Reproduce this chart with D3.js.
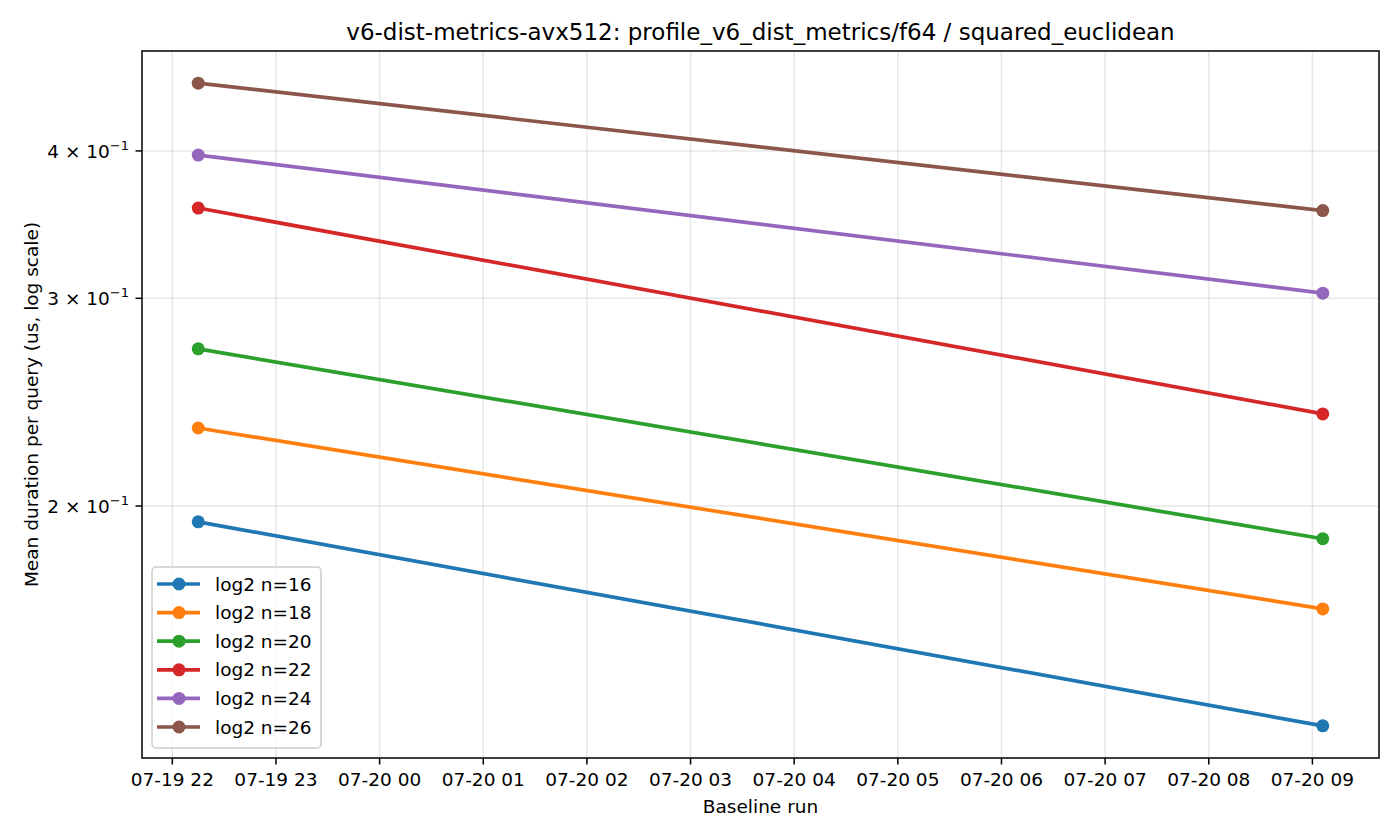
<!DOCTYPE html>
<head>
    <meta charset="UTF-8">
    <script src="https://cdnjs.cloudflare.com/ajax/libs/d3/7.8.5/d3.min.js"></script>
    <style>
        body { margin: 0; background: #fff; }
        text { font-family: "DejaVu Sans", sans-serif; fill: #000; }
    </style>
</head>
<body>
    <svg id="chart"></svg>
    <script>
        //********** DATOS *********************
        var tiempos = ["2024-07-19T22:15:00", "2024-07-20T09:06:00"];
        var series = ["log2 n=16", "log2 n=18", "log2 n=20", "log2 n=22", "log2 n=24", "log2 n=26"];
        var valores = [
            [0.1939, 0.1302],
            [0.2329, 0.1636],
            [0.2718, 0.1876],
            [0.3578, 0.2394],
            [0.3968, 0.3030],
            [0.4566, 0.3560]
        ];
        var colores = ["#1f77b4", "#ff7f0e", "#2ca02c", "#d62728", "#9467bd", "#8c564b"];
        var yTicks = [0.2, 0.3, 0.4];
        var yTickMant = ["2", "3", "4"];

        //********** DEFINICIONES *********************
        var width = 1400, height = 840;
        var mLeft = 142, mRight = 1379, mTop = 51, mBottom = 758;

        var parse = d3.timeParse("%Y-%m-%dT%H:%M:%S");
        var fechas = tiempos.map(parse);

        var t0 = +fechas[0], t1 = +fechas[1], pad = (t1 - t0) * 0.05;
        var x = d3.scaleTime()
            .domain([new Date(t0 - pad), new Date(t1 + pad)])
            .range([mLeft, mRight]);

        var todos = d3.merge(valores);
        var lmin = Math.log10(d3.min(todos)), lmax = Math.log10(d3.max(todos));
        var lpad = (lmax - lmin) * 0.05;
        var y = d3.scaleLog()
            .domain([Math.pow(10, lmin - lpad), Math.pow(10, lmax + lpad)])
            .range([mBottom, mTop]);

        var svg = d3.select("#chart")
            .attr("width", width)
            .attr("height", height);

        var xTicks = d3.timeHour.range(d3.timeHour.ceil(x.domain()[0]), x.domain()[1]);
        var fmt = d3.timeFormat("%m-%d %H");

        //********** GRILLA *********************
        svg.append("g").selectAll("line")
            .data(xTicks).enter().append("line")
            .attr("x1", function (d) { return x(d); })
            .attr("x2", function (d) { return x(d); })
            .attr("y1", mTop).attr("y2", mBottom)
            .style("stroke", "#b0b0b0").style("stroke-opacity", 0.3).style("stroke-width", 1.5);

        svg.append("g").selectAll("line")
            .data(yTicks).enter().append("line")
            .attr("y1", function (d) { return y(d); })
            .attr("y2", function (d) { return y(d); })
            .attr("x1", mLeft).attr("x2", mRight)
            .style("stroke", "#b0b0b0").style("stroke-opacity", 0.3).style("stroke-width", 1.5);

        //********** LINEAS *********************
        var line = d3.line()
            .x(function (d, i) { return x(fechas[i]); })
            .y(function (d) { return y(d); });

        var grupos = svg.append("g").selectAll("g")
            .data(valores).enter().append("g");

        grupos.append("path")
            .attr("d", function (d) { return line(d); })
            .style("fill", "none")
            .style("stroke", function (d, i) { return colores[i]; })
            .style("stroke-width", 3.7);

        grupos.selectAll("circle")
            .data(function (d, i) { return d.map(function (v, j) { return { v: v, j: j, c: colores[i] }; }); })
            .enter().append("circle")
            .attr("cx", function (d) { return x(fechas[d.j]); })
            .attr("cy", function (d) { return y(d.v); })
            .attr("r", 6.5)
            .style("fill", function (d) { return d.c; });

        //********** EJES *********************
        svg.append("rect")
            .attr("x", mLeft).attr("y", mTop)
            .attr("width", mRight - mLeft).attr("height", mBottom - mTop)
            .style("fill", "none").style("stroke", "#000").style("stroke-width", 1.5);

        var xa = svg.append("g").selectAll("g")
            .data(xTicks).enter().append("g")
            .attr("transform", function (d) { return "translate(" + x(d) + "," + mBottom + ")"; });
        xa.append("line").attr("y2", 6.5).style("stroke", "#000").style("stroke-width", 1.5);
        xa.append("text")
            .attr("y", 28).attr("text-anchor", "middle")
            .style("font-size", "18.5px")
            .text(function (d) { return fmt(d); });

        var ya = svg.append("g").selectAll("g")
            .data(yTicks).enter().append("g")
            .attr("transform", function (d) { return "translate(" + mLeft + "," + y(d) + ")"; });
        ya.append("line").attr("x2", -6.5).style("stroke", "#000").style("stroke-width", 1.5);
        var yt = ya.append("text")
            .attr("x", -13).attr("y", 7).attr("text-anchor", "end")
            .style("font-size", "18.5px");
        yt.append("tspan").text(function (d, i) { return yTickMant[i] + " \u00d7 10"; });
        yt.append("tspan").attr("dy", -8).style("font-size", "13px").text("\u22121");

        //********** TEXTOS *********************
        svg.append("text")
            .attr("x", (mLeft + mRight) / 2).attr("y", 40)
            .attr("text-anchor", "middle")
            .style("font-size", "23px")
            .text("v6-dist-metrics-avx512: profile_v6_dist_metrics/f64 / squared_euclidean");

        svg.append("text")
            .attr("x", (mLeft + mRight) / 2).attr("y", 813)
            .attr("text-anchor", "middle")
            .style("font-size", "18.5px")
            .text("Baseline run");

        svg.append("text")
            .attr("transform", "translate(38," + ((mTop + mBottom) / 2) + ") rotate(-90)")
            .attr("text-anchor", "middle")
            .style("font-size", "18.5px")
            .text("Mean duration per query (us, log scale)");

        //********** LEYENDA *********************
        var leg = svg.append("g").attr("transform", "translate(152,567)");
        leg.append("rect")
            .attr("width", 169).attr("height", 181).attr("rx", 4)
            .style("fill", "#fff").style("fill-opacity", 0.8)
            .style("stroke", "#cccccc").style("stroke-width", 1.5);

        var items = leg.selectAll("g")
            .data(series).enter().append("g")
            .attr("transform", function (d, i) { return "translate(0," + (17 + i * 28.6) + ")"; });
        items.append("line")
            .attr("x1", 5).attr("x2", 48)
            .style("stroke", function (d, i) { return colores[i]; })
            .style("stroke-width", 3.7);
        items.append("circle")
            .attr("cx", 27).attr("r", 6.5)
            .style("fill", function (d, i) { return colores[i]; });
        items.append("text")
            .attr("x", 63).attr("y", 6.5)
            .style("font-size", "18.5px")
            .text(function (d) { return d; });
    </script>
</body>
